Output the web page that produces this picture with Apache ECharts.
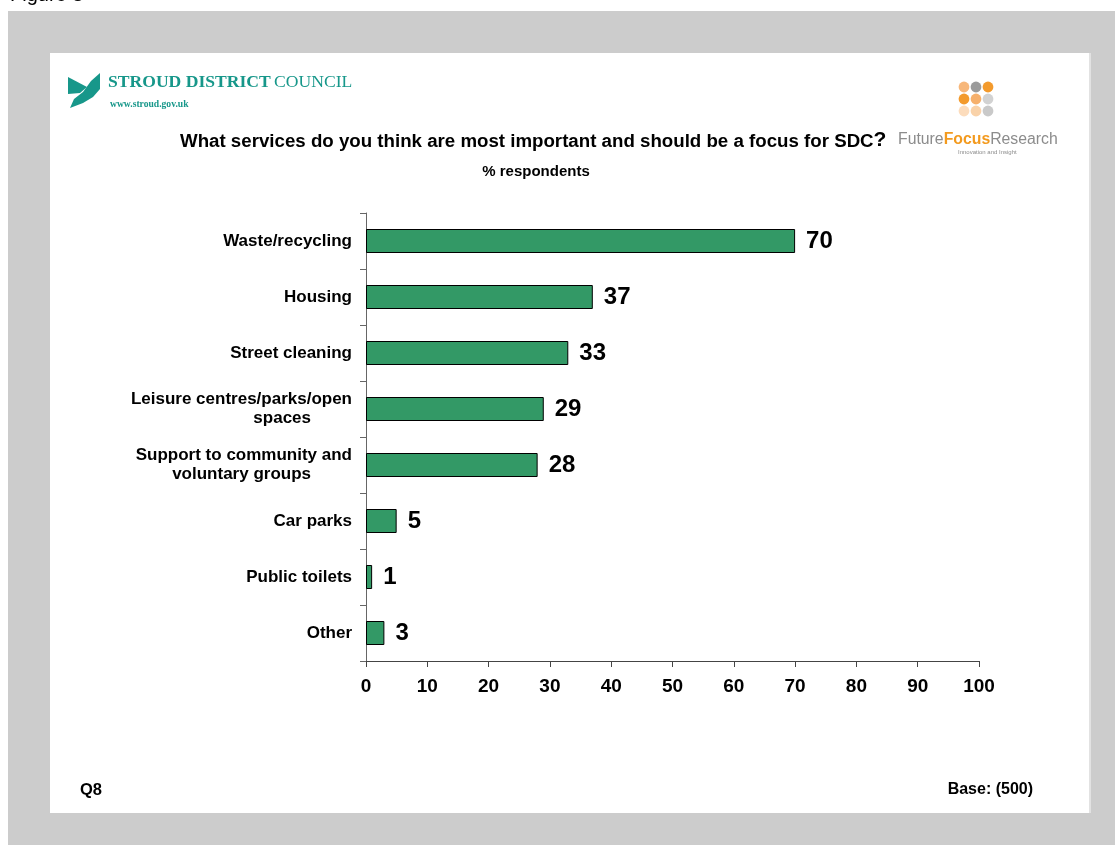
<!DOCTYPE html>
<html>
<head>
<meta charset="utf-8">
<title>Stroud District Council – services survey</title>
<script src="https://cdn.jsdelivr.net/npm/echarts@6/dist/echarts.min.js"></script>
<style>
  html, body { margin: 0; padding: 0; background: #ffffff; }
  #chart { width: 1115px; height: 845px; }
</style>
</head>
<body>
<div id="chart"></div>
<script>
// Survey results: share of respondents naming each service
const categories = [
  'Waste/recycling',
  'Housing',
  'Street cleaning',
  'Leisure centres/parks/open\nspaces',
  'Support to community and\nvoluntary groups',
  'Car parks',
  'Public toilets',
  'Other'
];
const values = [70, 37, 33, 29, 28, 5, 1, 3];

const titleText = 'What services do you think are most important and should be a focus for SDC';
const subtitleText = '% respondents';
const questionText = 'Q8';
const baseText = 'Base: (500)';

const SANS = "'Liberation Sans', Arial, Helvetica, sans-serif";
const SERIF = "'Liberation Serif', 'DejaVu Serif', serif";
const TEAL = '#17978a';
const BAR = '#339966';

// Future Focus Research dot mark: 3 x 3 grid colours
const dotColors = [
  ['#f7b77a', '#9b9b9b', '#f39a2c'],
  ['#f39a2c', '#f6b06c', '#d2d2d2'],
  ['#fcdcbc', '#f9d2a9', '#c9c9c9']
];

const dots = [];
dotColors.forEach((row, r) => row.forEach((c, k) => {
  dots.push({
    type: 'circle',
    shape: { cx: 964 + k * 12, cy: 87 + r * 12, r: 5.4 },
    style: { fill: c },
    silent: true
  });
}));

const chart = echarts.init(document.getElementById('chart'), null, { renderer: 'canvas' });

chart.setOption({
  animation: false,
  backgroundColor: '#ffffff',
  graphic: [
    // page frame
    { type: 'rect', z: -10, shape: { x: 8, y: 11, width: 1107, height: 834 }, style: { fill: '#cccccc' }, silent: true },
    { type: 'rect', z: -9, shape: { x: 1089, y: 53, width: 2, height: 760 }, style: { fill: '#e2e2e2' }, silent: true },
    { type: 'rect', z: -8, shape: { x: 50, y: 53, width: 1039, height: 760 }, style: { fill: '#ffffff' }, silent: true },
    // caption above the frame
    { type: 'text', left: 10, top: -15, style: { text: 'Figure 8', font: '20px ' + SANS, fill: '#000' }, silent: true },

    // council logo mark
    { type: 'polygon', shape: { points: [[68, 77], [87, 87], [80, 93], [68, 94]] }, style: { fill: TEAL }, silent: true },
    { type: 'polygon', shape: { points: [[70, 108], [74, 99], [83, 92], [91, 81], [100, 73], [100, 89], [93, 97], [83, 103]] }, style: { fill: TEAL }, silent: true },
    {
      type: 'text', left: 108, top: 73,
      style: {
        text: '{b|STROUD DISTRICT} {r|COUNCIL}',
        rich: {
          b: { font: 'bold 17.6px ' + SERIF, fill: TEAL },
          r: { font: '17.6px ' + SERIF, fill: TEAL }
        }
      },
      silent: true
    },
    { type: 'text', left: 110, top: 100, style: { text: 'www.stroud.gov.uk', font: 'bold 9.6px ' + SERIF, fill: TEAL }, silent: true },

    // research agency logo
    ...dots,
    {
      type: 'text', left: 898, top: 132,
      style: {
        text: '{a|Future}{b|Focus}{a|Research}',
        rich: {
          a: { font: '15.8px ' + SANS, fill: '#8c8c8c' },
          b: { font: 'bold 15.8px ' + SANS, fill: '#f39a1e' }
        }
      },
      silent: true
    },
    { type: 'text', left: 958, top: 149, style: { text: 'Innovation and Insight', font: '6px ' + SANS, fill: '#8c8c8c' }, silent: true },

    // headings
    {
      type: 'text', left: 180, top: 130,
      style: {
        text: '{a|' + titleText + '}{q|?}',
        rich: {
          a: { font: 'bold 18.7px ' + SANS, fill: '#000', verticalAlign: 'bottom' },
          q: { font: 'bold 21px ' + SANS, fill: '#000', verticalAlign: 'bottom' }
        }
      },
      silent: true
    },
    { type: 'text', x: 536, y: 172, style: { text: subtitleText, font: 'bold 15px ' + SANS, fill: '#000', align: 'center', verticalAlign: 'middle' }, silent: true },

    // footer
    { type: 'text', x: 80, y: 790, style: { text: questionText, font: 'bold 16.5px ' + SANS, fill: '#000', align: 'left', verticalAlign: 'middle' }, silent: true },
    { type: 'text', x: 1033, y: 790, style: { text: baseText, font: 'bold 16px ' + SANS, fill: '#000', align: 'right', verticalAlign: 'middle' }, silent: true }
  ],
  grid: { left: 366, top: 213, width: 613, height: 448, containLabel: false },
  xAxis: {
    type: 'value',
    min: 0, max: 100, interval: 10,
    axisLine: { show: true, lineStyle: { color: '#444', width: 1 } },
    axisTick: { show: true, length: 6, lineStyle: { color: '#444' } },
    splitLine: { show: false },
    axisLabel: { margin: 16, color: '#000', fontFamily: SANS, fontWeight: 'bold', fontSize: 19 }
  },
  yAxis: {
    type: 'category',
    inverse: true,
    data: categories,
    axisLine: { show: true, lineStyle: { color: '#666', width: 1 } },
    axisTick: { show: true, length: 6, lineStyle: { color: '#666' } },
    axisLabel: {
      margin: 14,
      color: '#000',
      fontFamily: SANS,
      fontWeight: 'bold',
      fontSize: 17,
      lineHeight: 19,
      // wrapped labels: second line sits a little in from the right edge
      formatter: (v) => v.split('\n').map((s, i) => (i === 0 ? '{c|' : '{d|') + s + '}').join('\n'),
      rich: {
        c: { align: 'right', fontFamily: SANS, fontWeight: 'bold', fontSize: 17, lineHeight: 19, color: '#000' },
        d: { align: 'right', padding: [0, 41, 0, 0], fontFamily: SANS, fontWeight: 'bold', fontSize: 17, lineHeight: 19, color: '#000' }
      }
    }
  },
  series: [{
    type: 'bar',
    data: values,
    barWidth: 24,
    itemStyle: { color: BAR, borderColor: '#000', borderWidth: 1 },
    label: {
      show: true,
      position: 'right',
      distance: 11,
      color: '#000',
      fontFamily: SANS,
      fontWeight: 'bold',
      fontSize: 24
    }
  }]
});
</script>
</body>
</html>
